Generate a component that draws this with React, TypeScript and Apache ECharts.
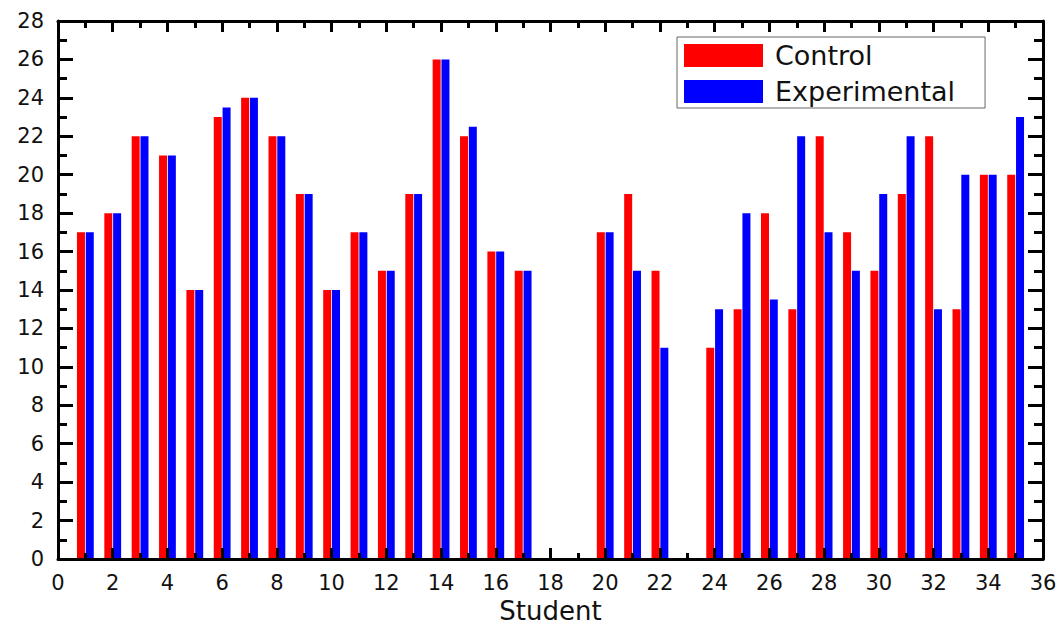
import React, { useEffect, useRef } from "react";
import * as echarts from "echarts";

const students = [1, 2, 3, 4, 5, 6, 7, 8, 9, 10, 11, 12, 13, 14, 15, 16, 17, 20, 21, 22, 24, 25, 26, 27, 28, 29, 30, 31, 32, 33, 34, 35];
const control = [17, 18, 22, 21, 14, 23, 24, 22, 19, 14, 17, 15, 19, 26, 22, 16, 15, 17, 19, 15, 11, 13, 18, 13, 22, 17, 15, 19, 22, 13, 20, 20];
const experimental = [17, 18, 22, 21, 14, 23.5, 24, 22, 19, 14, 17, 15, 19, 26, 22.5, 16, 15, 17, 15, 11, 13, 18, 13.5, 22, 17, 15, 19, 22, 13, 20, 20, 23];
const seriesNames = ["Control", "Experimental"];
const xTitle = "Student";

const FONT = "DejaVu Sans";

export default function App() {
  const ref = useRef<HTMLDivElement>(null);
  useEffect(() => {
    if (!ref.current) return;
    const chart = echarts.init(ref.current, undefined, { renderer: "svg" });
    const axisLine = { show: true, onZero: false, lineStyle: { color: "#000", width: 3 } };
    const hTick = (len: number) => ({ show: true, inside: true, length: len, lineStyle: { color: "#000", width: 3 } });
    const mTick = (len: number) => ({ show: true, splitNumber: 2, length: len, lineStyle: { color: "#000", width: 3 } });
    chart.setOption({
      animation: false,
      backgroundColor: "#fff",
      grid: { left: 58, top: 21, right: 17, bottom: 66, containLabel: false, outerBoundsMode: "none" },
      legend: {
        orient: "vertical",
        left: 677,
        top: 37,
        itemWidth: 79,
        itemHeight: 23,
        itemGap: 9,
        padding: [5, 30, 3, 7],
        borderColor: "#666",
        borderWidth: 1,
        icon: "rect",
        textStyle: { fontFamily: FONT, fontSize: 27, color: "#111", lineHeight: 23, padding: [0, 0, 0, 7] },
        data: seriesNames,
      },
      xAxis: [
        {
          type: "value",
          min: 0,
          max: 36,
          interval: 2,
          z: 5,
          name: xTitle,
          nameLocation: "middle",
          nameGap: 35,
          nameTextStyle: { fontFamily: FONT, fontSize: 26, color: "#111", lineHeight: 26 },
          axisLine,
          axisTick: hTick(11),
          minorTick: mTick(6),
          splitLine: { show: false },
          axisLabel: { fontFamily: FONT, fontSize: 21, color: "#111", margin: 13 },
        },
        {
          type: "value",
          position: "top",
          min: 0,
          max: 36,
          interval: 2,
          z: 5,
          axisLine,
          axisTick: hTick(11),
          minorTick: mTick(7),
          splitLine: { show: false },
          axisLabel: { show: false },
        },
      ],
      yAxis: [
        {
          type: "value",
          min: 0,
          max: 28,
          interval: 2,
          z: 5,
          axisLine,
          axisTick: hTick(15),
          minorTick: mTick(9),
          splitLine: { show: false },
          axisLabel: { fontFamily: FONT, fontSize: 21, color: "#111", margin: 14 },
        },
        {
          type: "value",
          position: "right",
          min: 0,
          max: 28,
          interval: 2,
          z: 5,
          axisLine,
          axisTick: hTick(15),
          minorTick: mTick(9),
          splitLine: { show: false },
          axisLabel: { show: false },
        },
      ],
      series: [
        {
          name: seriesNames[0],
          type: "bar",
          xAxisIndex: 0,
          yAxisIndex: 0,
          barWidth: 8,
          barGap: "10%",
          itemStyle: { color: "#ff0000" },
          data: students.map((s, i) => [s, control[i]]),
        },
        {
          name: seriesNames[1],
          type: "bar",
          xAxisIndex: 0,
          yAxisIndex: 0,
          barWidth: 8,
          barGap: "10%",
          itemStyle: { color: "#0000ff" },
          data: students.map((s, i) => [s, experimental[i]]),
        },
      ],
    });
    return () => chart.dispose();
  }, []);
  return <div ref={ref} style={{ position: "absolute", left: 0, top: 0, width: 1060, height: 625 }} />;
}
